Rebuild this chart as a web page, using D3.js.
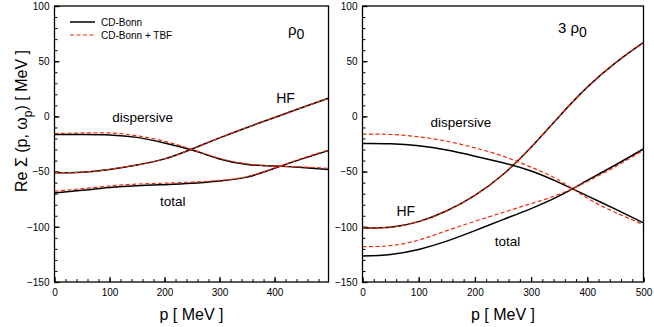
<!DOCTYPE html>
<html>
<head>
<meta charset="utf-8">
<script src="https://cdn.jsdelivr.net/npm/d3@7"></script>
<style>
  body { margin: 0; background: #fff; }
  svg text { font-family: "Liberation Sans", Arial, Helvetica, sans-serif; fill: #000; }
</style>
</head>
<body>
<svg id="chart" width="654" height="327"></svg>
<script>
// momentum grid (MeV)
const pLeft  = [0, 50, 100, 150, 200, 250, 300, 350, 400, 450, 498];
const pRight = [0, 50, 100, 150, 200, 250, 300, 350, 400, 450, 500];

// rho0 panel
const rho0HF_bonn    = [-51, -50.5, -48, -44, -38.5, -29.5, -19.5, -10, -1, 8, 16.5];
const rho0HF_tbf     = [-51, -50.5, -48, -44, -38.5, -29.5, -19.5, -10, -1, 8, 16.5];
const rho0Disp_bonn  = [-16.5, -16.5, -16.8, -19, -24, -30.5, -38.5, -43.5, -45, -46.3, -48];
const rho0Disp_tbf   = [-15.5, -15, -15, -17.5, -22.5, -30, -38, -43, -45, -45.8, -47];
const rho0Total_bonn = [-69.3, -67, -64.5, -62.8, -61.8, -60.6, -58.5, -55, -47, -38.5, -31];
const rho0Total_tbf  = [-67.8, -65.5, -63, -61.3, -60.5, -59.5, -58, -54.5, -46.8, -38, -30.5];

// 3 rho0 panel
const rho3HF_bonn    = [-101, -100.3, -95.3, -85.5, -71.5, -52.6, -28, 0, 26.5, 48.5, 67];
const rho3HF_tbf     = [-101, -100.3, -95.3, -85.5, -71.5, -52.6, -28, 0, 26.5, 48.5, 67];
const rho3Disp_bonn  = [-24.5, -24.7, -26.5, -30.5, -36, -42, -49.5, -60, -72, -84, -96.4];
const rho3Disp_tbf   = [-16, -16.3, -18.5, -22.5, -28.5, -36, -46, -58, -74, -87, -98];
const rho3Total_bonn = [-126.5, -125, -120.5, -113, -103.5, -93.5, -83.5, -72, -58, -44, -29.5];
const rho3Total_tbf  = [-118, -117, -112, -103.5, -95, -87, -79, -70.5, -59, -45.5, -30.7];

const yTicks = [-150, -100, -50, 0, 50, 100];
const xTicksLeft = [0, 100, 200, 300, 400];
const xTicksRight = [0, 100, 200, 300, 400, 500];

const svg = d3.select("#chart");
const red = "#f2280a";

const y = d3.scaleLinear().domain([-150, 100]).range([282, 6]);

const panels = [
  { id: "l", x0: 54.5, x1: 328.5, xmax: 498, p: pLeft, xt: xTicksLeft,
    series: [rho0HF_bonn, rho0Disp_bonn, rho0Total_bonn],
    seriesTbf: [rho0HF_tbf, rho0Disp_tbf, rho0Total_tbf] },
  { id: "r", x0: 362.5, x1: 643.5, xmax: 500, p: pRight, xt: xTicksRight,
    series: [rho3HF_bonn, rho3Disp_bonn, rho3Total_bonn],
    seriesTbf: [rho3HF_tbf, rho3Disp_tbf, rho3Total_tbf] }
];

panels.forEach(pn => {
  const x = d3.scaleLinear().domain([0, pn.xmax]).range([pn.x0, pn.x1]);
  pn.x = x;

  svg.append("clipPath").attr("id", "clip-" + pn.id)
    .append("rect").attr("x", pn.x0).attr("y", 6)
    .attr("width", pn.x1 - pn.x0).attr("height", 276);

  // minor ticks
  svg.append("g").attr("transform", `translate(${pn.x0},0)`)
    .call(d3.axisLeft(y).tickValues(d3.range(-150, 101, 10)).tickSize(-3).tickFormat(""))
    .call(g => g.select(".domain").remove())
    .selectAll("line").attr("stroke-width", 1);
  svg.append("g").attr("transform", "translate(0,282)")
    .call(d3.axisBottom(x).tickValues(d3.range(0, pn.xmax + 1, 20)).tickSize(-3).tickFormat(""))
    .call(g => g.select(".domain").remove())
    .selectAll("line").attr("stroke-width", 1);

  // major ticks + labels
  const ya = svg.append("g").attr("transform", `translate(${pn.x0},0)`)
    .call(d3.axisLeft(y).tickValues(yTicks).tickSize(-5).tickPadding(5))
    .call(g => g.select(".domain").remove());
  ya.selectAll("line").attr("stroke-width", 1.3);
  ya.selectAll("text").style("font-size", "10px").attr("fill", "#000");

  const xa = svg.append("g").attr("transform", "translate(0,282)")
    .call(d3.axisBottom(x).tickValues(pn.xt).tickSize(-5).tickPadding(7))
    .call(g => g.select(".domain").remove());
  xa.selectAll("line").attr("stroke-width", 1.3);
  xa.selectAll("text").style("font-size", "10px").attr("fill", "#000");

  const line = d3.line()
    .x((d, i) => x(pn.p[i]))
    .y(d => y(d))
    .curve(d3.curveNatural);

  const cg = svg.append("g").attr("clip-path", `url(#clip-${pn.id})`);
  pn.series.forEach(s => {
    cg.append("path").attr("d", line(s)).attr("fill", "none")
      .attr("stroke", "#000").attr("stroke-width", 1.5);
  });
  pn.seriesTbf.forEach(s => {
    cg.append("path").attr("d", line(s)).attr("fill", "none")
      .attr("stroke", red).attr("stroke-width", 1.2)
      .attr("stroke-dasharray", "4,2.5");
  });

  // frame
  svg.append("rect").attr("x", pn.x0).attr("y", 6)
    .attr("width", pn.x1 - pn.x0).attr("height", 276)
    .attr("fill", "none").attr("stroke", "#000").attr("stroke-width", 1.3);

  svg.append("text").attr("x", (pn.x0 + pn.x1) / 2).attr("y", 320)
    .attr("text-anchor", "middle").style("font-size", "16px").text("p [ MeV ]");
});

// curve labels
const L = panels[0].x, R = panels[1].x;
const lab = (xp, yp, t, fs) => svg.append("text").attr("x", xp).attr("y", yp)
  .attr("text-anchor", "middle").style("font-size", fs).text(t);
lab(L(160), 121.5, "dispersive", "13.5px");
lab(L(420), 103, "HF", "14px");
lab(L(215), 205.5, "total", "13.5px");
lab(R(175), 127, "dispersive", "13.5px");
lab(R(77), 215.5, "HF", "14px");
lab(R(258), 245.5, "total", "13.5px");

// density labels
const d0 = svg.append("text").attr("x", 288).attr("y", 35).style("font-size", "15px");
d0.append("tspan").text("ρ");
d0.append("tspan").attr("dy", 4).style("font-size", "14px").text("0");
const d3r = svg.append("text").attr("x", 558).attr("y", 33).style("font-size", "15px");
d3r.append("tspan").text("3 ρ");
d3r.append("tspan").attr("dy", 4).style("font-size", "14px").text("0");

// legend
const legend = svg.append("g");
legend.append("line").attr("x1", 70).attr("x2", 95).attr("y1", 22).attr("y2", 22)
  .attr("stroke", "#000").attr("stroke-width", 1.5);
legend.append("line").attr("x1", 70).attr("x2", 95).attr("y1", 35).attr("y2", 35)
  .attr("stroke", red).attr("stroke-width", 1.2).attr("stroke-dasharray", "4,2.5");
legend.append("text").attr("x", 101).attr("y", 25.5).style("font-size", "10px").text("CD-Bonn");
legend.append("text").attr("x", 101).attr("y", 38.5).style("font-size", "10px").text("CD-Bonn + TBF");

// y title
const yt = svg.append("text")
  .attr("transform", "translate(27,121) rotate(-90)")
  .attr("text-anchor", "middle").style("font-size", "16px");
yt.append("tspan").text("Re Σ (p, ω");
yt.append("tspan").attr("dy", 5).style("font-size", "12px").text("p");
yt.append("tspan").attr("dy", -5).text(") [ MeV ]");
</script>
</body>
</html>
